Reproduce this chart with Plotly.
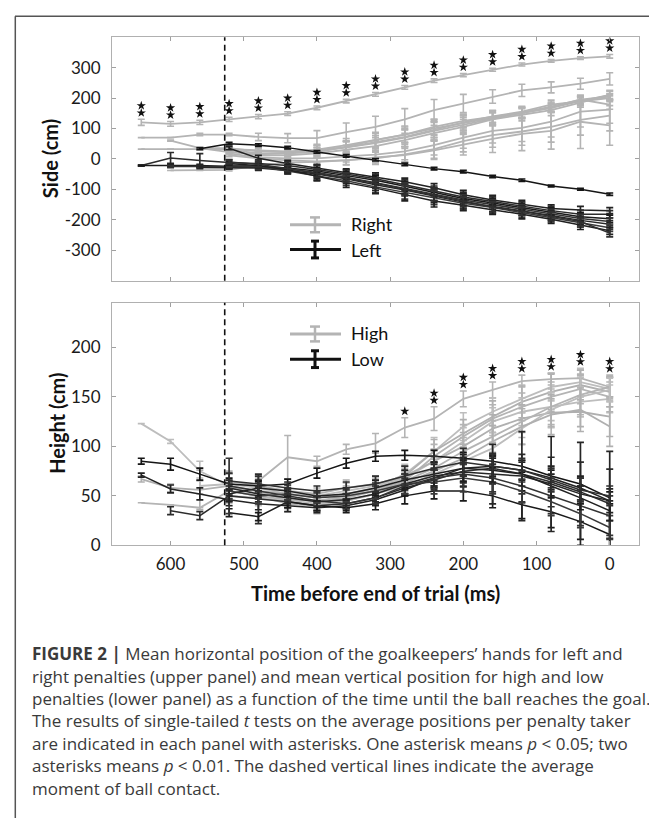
import plotly.graph_objects as go

# ---------------- data ----------------
times = [640, 600, 560, 520, 480, 440, 400, 360, 320, 280, 240, 200, 160, 120, 80, 40, 0]
ball_contact_ms = 526

N = None
side_right = [
    [120, 115, 120, 130, 139, 149, 168, 190, 212, 235, 257, 275, 293, 310, 322, 331, 337],
    [70, 70, 80, 80, 72, 68, 68, 88, 105, 130, 160, 182, 205, 225, 235, 247, 263],
    [N, 60, 35, 22, 15, 20, 30, 45, 62, 80, 100, 118, 135, 150, 168, 190, 210],
    [32, 32, 32, 32, 28, 25, 30, 38, 52, 70, 92, 112, 132, 150, 172, 195, 205],
    [N, N, 35, 35, 25, 22, 25, 38, 55, 72, 95, 120, 140, 155, 178, 190, 200],
    [N, N, N, 30, 18, 18, 22, 40, 62, 80, 105, 125, 138, 152, 168, 195, 178],
    [N, N, N, 25, 12, 12, 18, 30, 42, 62, 85, 105, 130, 145, 160, 185, 210],
    [N, N, N, 18, 5, 2, 2, 8, 14, 25, 45, 70, 92, 102, 122, 155, 162],
    [N, N, N, 12, 2, -5, -8, -4, 2, 15, 32, 58, 78, 90, 105, 128, 142],
    [N, -38, -38, -36, -22, -12, -10, -5, 5, 12, 28, 48, 66, 82, 92, 122, 110],
]
side_right_err = [
    [10, 8, 7, 7, 7, 6, 6, 6, 6, 6, 6, 5, 5, 5, 4, 4, 6],
    [0, 0, 4, 4, 12, 15, 25, 30, 35, 35, 35, 30, 22, 20, 18, 18, 20],
    [0, 2, 5, 5, 10, 15, 18, 22, 25, 28, 30, 25, 22, 18, 15, 15, 12],
    [0, 0, 0, 5, 8, 10, 15, 20, 25, 30, 30, 25, 20, 18, 15, 12, 10],
    [0, 0, 3, 5, 8, 10, 12, 18, 22, 25, 25, 22, 20, 18, 15, 12, 12],
    [0, 0, 0, 6, 8, 10, 15, 20, 22, 25, 25, 22, 20, 18, 15, 12, 15],
    [0, 0, 0, 6, 8, 10, 12, 15, 18, 22, 25, 25, 22, 20, 18, 15, 15],
    [0, 0, 0, 5, 8, 10, 12, 18, 22, 28, 32, 35, 40, 45, 50, 50, 45],
    [0, 0, 0, 5, 8, 10, 12, 15, 20, 25, 30, 35, 40, 45, 50, 50, 50],
    [0, 0, 0, 4, 8, 10, 12, 15, 18, 22, 30, 35, 45, 55, 60, 88, 65],
]
side_left = [
    [N, N, 33, 50, 45, 37, 23, 10, -3, -18, -32, -42, -58, -70, -89, -100, -116],
    [N, N, N, 35, 2, -15, -30, -45, -58, -75, -95, -118, -135, -150, -163, -168, -170],
    [-22, 3, -5, -12, -15, -22, -35, -50, -65, -85, -105, -125, -140, -155, -170, -182, -182],
    [-22, -22, -22, -25, -25, -30, -40, -55, -70, -90, -110, -130, -145, -160, -175, -190, -197],
    [N, -25, -25, -25, -28, -33, -45, -60, -78, -96, -116, -135, -150, -165, -180, -196, -206],
    [N, N, -28, -28, -30, -38, -50, -65, -85, -102, -122, -142, -156, -170, -186, -202, -215],
    [N, N, N, -20, -25, -40, -55, -72, -92, -110, -128, -146, -160, -176, -192, -210, -226],
    [N, N, N, -15, -22, -36, -58, -78, -96, -118, -138, -152, -166, -182, -198, -218, -236],
    [N, N, N, -10, -18, -32, -48, -62, -80, -100, -120, -140, -158, -172, -188, -206, -244],
]
side_left_err = [
    [0, 0, 3, 4, 4, 4, 4, 4, 4, 4, 4, 4, 4, 4, 3, 3, 4],
    [0, 0, 0, 5, 10, 10, 12, 12, 12, 12, 14, 15, 15, 14, 12, 12, 10],
    [2, 18, 22, 10, 12, 12, 14, 14, 14, 16, 16, 16, 15, 14, 14, 14, 12],
    [0, 4, 4, 6, 8, 10, 12, 14, 14, 16, 16, 16, 15, 14, 14, 14, 12],
    [0, 4, 4, 6, 8, 10, 12, 14, 16, 18, 20, 18, 16, 15, 14, 14, 12],
    [0, 0, 4, 6, 8, 10, 14, 16, 18, 20, 22, 20, 18, 16, 15, 14, 12],
    [0, 0, 0, 6, 8, 10, 14, 16, 18, 22, 22, 20, 18, 16, 15, 14, 12],
    [0, 0, 0, 6, 8, 10, 14, 16, 18, 20, 20, 18, 16, 15, 14, 14, 12],
    [0, 0, 0, 6, 8, 10, 12, 14, 16, 18, 18, 16, 15, 14, 14, 14, 12],
]

height_high = [
    [N, N, N, N, 65, 89, 85, 97, 103, 119, 128, 148, 157, 166, 168, 169, 160],
    [123, 105, 75, 60, 52, 48, 45, 50, 58, 72, 95, 120, 135, 148, 160, 165, 158],
    [67, 58, 56, 60, 55, 45, 42, 48, 56, 70, 95, 113, 130, 145, 155, 162, 155],
    [43, 41, 38, 55, 50, 42, 40, 45, 52, 65, 90, 110, 128, 140, 150, 158, 150],
    [N, N, 60, 62, 58, 52, 50, 55, 60, 68, 85, 105, 125, 135, 140, 145, 148],
    [N, N, N, 65, 60, 55, 52, 58, 62, 70, 85, 100, 118, 128, 134, 135, 130],
    [N, N, N, 55, 50, 46, 45, 48, 55, 65, 78, 95, 110, 125, 140, 152, 160],
    [N, N, N, 50, 48, 45, 42, 45, 52, 60, 72, 85, 98, 118, 137, 150, 157],
    [N, N, N, 58, 55, 52, 48, 52, 58, 63, 75, 88, 105, 120, 132, 137, 120],
]
height_high_err = [
    [0, 0, 0, 0, 5, 22, 5, 5, 10, 10, 12, 8, 8, 6, 6, 8, 10],
    [0, 2, 10, 12, 8, 8, 8, 8, 10, 10, 14, 14, 14, 14, 14, 14, 12],
    [3, 4, 20, 15, 8, 8, 8, 8, 8, 10, 12, 14, 16, 16, 18, 15, 15],
    [0, 0, 0, 10, 8, 8, 8, 8, 8, 10, 12, 12, 14, 14, 15, 15, 15],
    [0, 0, 8, 10, 8, 8, 6, 8, 8, 10, 12, 14, 14, 14, 14, 15, 14],
    [0, 0, 0, 8, 8, 8, 6, 8, 8, 10, 12, 14, 14, 14, 14, 15, 20],
    [0, 0, 0, 8, 8, 6, 6, 8, 8, 10, 12, 14, 16, 16, 18, 20, 12],
    [0, 0, 0, 8, 8, 6, 6, 8, 8, 10, 12, 14, 16, 16, 18, 20, 12],
    [0, 0, 0, 8, 8, 6, 6, 8, 8, 10, 12, 14, 16, 18, 20, 22, 20],
]
height_low = [
    [85, 82, 72, 62, 60, 62, 73, 83, 90, 91, 90, 88, 85, 80, 70, 62, 48],
    [71, 57, 52, 46, 42, 40, 38, 40, 46, 56, 68, 78, 80, 76, 68, 58, 45],
    [N, 35, 30, 50, 47, 44, 40, 42, 48, 58, 66, 75, 78, 72, 64, 54, 42],
    [N, N, N, 33, 29, 44, 40, 38, 42, 50, 55, 55, 50, 41, 34, 24, 11],
    [N, N, N, 60, 55, 50, 45, 42, 48, 60, 68, 72, 68, 60, 50, 40, 30],
    [N, N, N, 58, 52, 48, 44, 46, 52, 62, 70, 74, 72, 70, 62, 52, 45],
    [N, N, N, 55, 50, 52, 48, 50, 55, 62, 64, 68, 64, 55, 44, 32, 18],
    [N, N, N, 52, 58, 55, 50, 52, 58, 66, 72, 78, 76, 72, 60, 48, 35],
    [N, N, N, 65, 62, 58, 55, 58, 62, 70, 78, 84, 80, 76, 66, 56, 50],
]
height_low_err = [
    [3, 6, 6, 6, 5, 5, 5, 5, 5, 5, 6, 6, 6, 6, 6, 6, 6],
    [2, 4, 6, 6, 6, 6, 5, 5, 6, 6, 8, 8, 10, 10, 12, 12, 12],
    [0, 4, 4, 5, 25, 6, 5, 5, 6, 8, 10, 12, 15, 20, 25, 30, 35],
    [0, 0, 0, 4, 4, 6, 5, 5, 6, 8, 8, 10, 12, 14, 16, 18, 14],
    [0, 0, 0, 28, 8, 6, 5, 5, 6, 8, 10, 12, 14, 16, 18, 20, 20],
    [0, 0, 0, 8, 8, 6, 5, 6, 8, 10, 12, 15, 30, 45, 48, 52, 50],
    [0, 0, 0, 8, 8, 6, 5, 6, 8, 10, 12, 14, 12, 12, 14, 14, 12],
    [0, 0, 0, 8, 8, 6, 5, 6, 8, 10, 12, 14, 12, 12, 12, 12, 10],
    [0, 0, 0, 8, 8, 6, 5, 6, 8, 10, 12, 14, 12, 12, 12, 12, 10],
]

side_sig = [2] * 17
height_sig = [0, 0, 0, 0, 0, 0, 0, 0, 0, 1, 2, 2, 2, 2, 2, 2, 2]

side_range = [-400, 400]
height_range = [0, 245]
x_range = [680, -40]
x_ticks = [600, 500, 400, 300, 200, 100, 0]
side_ticks = [-300, -200, -100, 0, 100, 200, 300]
side_tick_labels = ["-300", "-200", "-100", "0", "100", "200", "300"]
height_ticks = [0, 50, 100, 150, 200]
caption_lines = [
    "<b>FIGURE 2 |</b> Mean horizontal position of the goalkeepers’ hands for left and",
    "right penalties (upper panel) and mean vertical position for high and low",
    "penalties (lower panel) as a function of the time until the ball reaches the goal.",
    "The results of single-tailed <i>t</i> tests on the average positions per penalty taker",
    "are indicated in each panel with asterisks. One asterisk means <i>p</i> &lt; 0.05; two",
    "asterisks means <i>p</i> &lt; 0.01. The dashed vertical lines indicate the average",
    "moment of ball contact.",
]

# ---------------- layout geometry (pixels) ----------------
W, H = 657, 820
PLOT_L, PLOT_R = 104, 631
TOP_T, TOP_B = 29.5, 276
BOT_T, BOT_B = 298.5, 544


def px(x):
    return x / W


def py(y):
    return 1 - y / H


GRAY = "#b4b4b4"
BLACKS = ["#151515", "#222222", "#2c2c2c", "#1a1a1a", "#333333", "#262626", "#3a3a3a", "#202020", "#303030"]
FONT = "Lato"

fig = go.Figure()


def add_group(vals, errs, xa, ya, colors, width, ethick):
    for k, (v, e) in enumerate(zip(vals, errs)):
        fig.add_trace(go.Scatter(
            x=times, y=v, mode="lines", xaxis=xa, yaxis=ya,
            line=dict(color=colors[k % len(colors)], width=width),
            error_y=dict(type="data", array=e, visible=True,
                         color=colors[k % len(colors)], thickness=ethick, width=3.5),
            showlegend=False, hoverinfo="skip"))


add_group(side_right, side_right_err, "x", "y", [GRAY], 1.8, 1.6)
add_group(side_left, side_left_err, "x", "y", BLACKS, 1.5, 1.7)
add_group(height_high, height_high_err, "x2", "y2", [GRAY, "#bdbdbd", "#b0b0b0"], 1.8, 1.6)
add_group(height_low, height_low_err, "x2", "y2", BLACKS, 1.5, 1.7)


def star_points(vals, errs, sig, unit_px):
    xs, ys = [], []
    for i, t in enumerate(times):
        if sig[i] == 0:
            continue
        top = max(v[i] + e[i] for v, e in zip(vals, errs) if v[i] is not None)
        for s in range(sig[i]):
            xs.append(t)
            ys.append(top + (6.5 + 7.3 * s) / unit_px)
    return xs, ys


top_unit = (TOP_B - TOP_T) / (side_range[1] - side_range[0])
bot_unit = (BOT_B - BOT_T) / (height_range[1] - height_range[0])
sx, sy = star_points(side_right, side_right_err, side_sig, top_unit)
fig.add_trace(go.Scatter(x=sx, y=sy, mode="markers", xaxis="x", yaxis="y",
                         marker=dict(symbol="star", size=7, color="#111111", line=dict(width=0)),
                         showlegend=False, hoverinfo="skip"))
hx, hy = star_points(height_high, height_high_err, height_sig, bot_unit)
fig.add_trace(go.Scatter(x=hx, y=hy, mode="markers", xaxis="x2", yaxis="y2",
                         marker=dict(symbol="star", size=7, color="#111111", line=dict(width=0)),
                         showlegend=False, hoverinfo="skip"))

axis_common = dict(showgrid=False, zeroline=False, showline=True, linecolor="#b0b0b0",
                   linewidth=1, mirror="ticks", ticks="inside", ticklen=4,
                   tickcolor="#a0a0a0", tickwidth=1,
                   tickfont=dict(family=FONT, size=17, color="#1a1a1a"))

xdom = [px(PLOT_L), px(PLOT_R)]
fig.update_layout(
    width=W, height=H, margin=dict(l=0, r=0, t=0, b=0),
    paper_bgcolor="white", plot_bgcolor="white", showlegend=False,
    xaxis=dict(domain=xdom, range=x_range, anchor="y", tickvals=x_ticks,
               showticklabels=False, **axis_common),
    yaxis=dict(domain=[py(TOP_B), py(TOP_T)], range=side_range, anchor="x",
               tickvals=side_ticks, ticktext=side_tick_labels, ticklabelstandoff=7, **axis_common),
    xaxis2=dict(domain=xdom, range=x_range, anchor="y2", tickvals=x_ticks,
                ticklabelstandoff=3, **axis_common),
    yaxis2=dict(domain=[py(BOT_B), py(BOT_T)], range=height_range, anchor="x2",
                tickvals=height_ticks, ticklabelstandoff=7, **axis_common),
)

shapes = []
for xr, yr in (("x", "y domain"), ("x2", "y2 domain")):
    shapes.append(dict(type="line", xref=xr, yref=yr, x0=ball_contact_ms, x1=ball_contact_ms,
                       y0=0, y1=1, line=dict(color="#111111", width=1.6, dash="6px,4px")))

# frame of the figure (top + left)
shapes.append(dict(type="line", xref="paper", yref="paper", x0=px(7), x1=1.0, y0=py(8.3), y1=py(8.3),
                   line=dict(color="#555555", width=1.5)))
shapes.append(dict(type="line", xref="paper", yref="paper", x0=px(7.3), x1=px(7.3), y0=0, y1=py(8.3),
                   line=dict(color="#555555", width=1.5)))


def legend_sample(y, color, lw, bw, half_h, cap):
    xc = 307
    shapes.append(dict(type="line", xref="paper", yref="paper", x0=px(282), x1=px(333), y0=py(y), y1=py(y),
                       line=dict(color=color, width=lw)))
    shapes.append(dict(type="line", xref="paper", yref="paper", x0=px(xc), x1=px(xc),
                       y0=py(y - half_h), y1=py(y + half_h), line=dict(color=color, width=bw)))
    for yy in (y - half_h, y + half_h):
        shapes.append(dict(type="line", xref="paper", yref="paper", x0=px(xc - cap), x1=px(xc + cap),
                           y0=py(yy), y1=py(yy), line=dict(color=color, width=bw)))


legend_sample(219.5, GRAY, 3, 2.5, 7.5, 5)
legend_sample(244.5, "#111111", 3, 3, 8.5, 4)
legend_sample(330, GRAY, 3, 2.5, 7.5, 5)
legend_sample(355.5, "#111111", 3, 3, 8.5, 4)
fig.update_layout(shapes=shapes)

ann = []
for txt, y in (("Right", 219), ("Left", 245), ("High", 329), ("Low", 355.5)):
    ann.append(dict(text=txt, xref="paper", yref="paper", x=px(341), y=py(y), xanchor="left",
                    yanchor="middle", showarrow=False, font=dict(family=FONT, size=18, color="#111111")))
ann.append(dict(text="<b>Side (cm)</b>", xref="paper", yref="paper", x=px(42), y=py(153), textangle=-90,
                xanchor="center", yanchor="middle", showarrow=False,
                font=dict(family=FONT, size=20, color="#111111")))
ann.append(dict(text="<b>Height (cm)</b>", xref="paper", yref="paper", x=px(49), y=py(421), textangle=-90,
                xanchor="center", yanchor="middle", showarrow=False,
                font=dict(family=FONT, size=20, color="#111111")))
ann.append(dict(text="<b>Time before end of trial (ms)</b>", xref="paper", yref="paper", x=px(367.5),
                y=py(592), xanchor="center", yanchor="middle", showarrow=False,
                font=dict(family=FONT, size=20, color="#111111")))
for i, line in enumerate(caption_lines):
    ann.append(dict(text=line, xref="paper", yref="paper", x=px(22), y=py(653.5 + 22.75 * i),
                    xanchor="left", yanchor="middle", showarrow=False,
                    font=dict(family="Open Sans", size=17, color="#3a3a3a")))
fig.update_layout(annotations=ann)

fig.write_html("out.html")
